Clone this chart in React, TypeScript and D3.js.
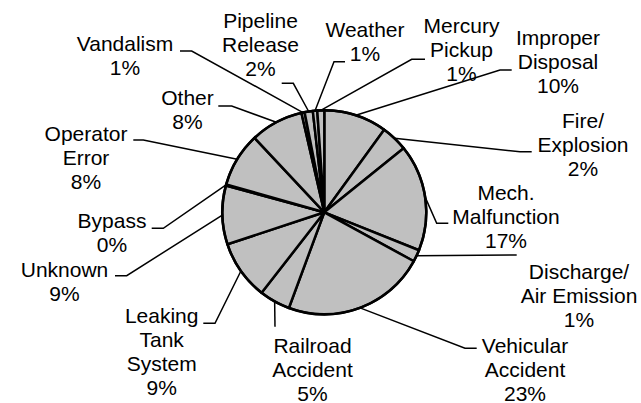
import React from "react";
import * as d3 from "d3";

// Categories in drawing order (clockwise from 12 o'clock); "\n" marks label line breaks
const categories = [
  "Improper\nDisposal",
  "Fire/\nExplosion",
  "Mech.\nMalfunction",
  "Discharge/\nAir Emission",
  "Vehicular\nAccident",
  "Railroad\nAccident",
  "Leaking\nTank\nSystem",
  "Unknown",
  "Bypass",
  "Operator\nError",
  "Other",
  "Vandalism",
  "Pipeline\nRelease",
  "Weather",
  "Mercury\nPickup",
];

// Slice sizes (share of the pie, %)
const values = [10.0, 4.2, 16.9, 1.9, 22.7, 4.9, 9.4, 9.3, 0.2, 8.6, 8.4, 0.5, 1.3, 0.7, 1.1];

// Percentage labels as printed on the chart
const percentLabels = ["10%", "2%", "17%", "1%", "23%", "5%", "9%", "9%", "0%", "8%", "8%", "1%", "2%", "1%", "1%"];

// Layout: label centre x, first baseline y, leader elbow (ex, ey) and leader end x (hx)
const labelLayout = [
  { tx: 558, ty: 45, ex: 500, ey: 70, hx: 511.7 },
  { tx: 583, ty: 128.3, ex: 520, ey: 151.7, hx: 531.7 },
  { tx: 506, ty: 200, ex: 436.7, ey: 223.3, hx: 448.3 },
  { tx: 579, ty: 279.3, ex: 516.7, ey: 255, hx: 516.7 },
  { tx: 525, ty: 353.3, ex: 465, ey: 348.3, hx: 476.7 },
  { tx: 312.5, ty: 353.3, ex: 275, ey: 326.7, hx: 275 },
  { tx: 161.7, ty: 323.3, ex: 215, ey: 323.3, hx: 203.3 },
  { tx: 64.5, ty: 276.7, ex: 126.7, ey: 275.7, hx: 115 },
  { tx: 112, ty: 228.3, ex: 163.3, ey: 228.3, hx: 151.7 },
  { tx: 86, ty: 141.3, ex: 143.3, ey: 140, hx: 133.3 },
  { tx: 187.5, ty: 105, ex: 231.7, ey: 106, hx: 218.3 },
  { tx: 125, ty: 50.7, ex: 191.7, ey: 51, hx: 180 },
  { tx: 260.5, ty: 28.3, ex: 293.3, ey: 83.3, hx: 281.7 },
  { tx: 365, ty: 37.3, ex: 334, ey: 61.7, hx: 345 },
  { tx: 461.5, ty: 33.3, ex: 411.7, ey: 59.3, hx: 425 },
];

const W = 641;
const H = 403;
const CX = 324.3;
const CY = 212.3;
const R = 102;
const LINE_H = 24;

export default function App() {
  const data = categories.map((c, i) => ({ name: c, value: values[i], pct: percentLabels[i], layout: labelLayout[i] }));
  const pie = d3
    .pie<any>()
    .sort(null)
    .value((d: any) => d.value)
    .startAngle(0)
    .endAngle(2 * Math.PI);
  const arcs = pie(data);
  const arcGen = d3.arc<any>().innerRadius(0).outerRadius(R);

  return (
    <svg
      width={W}
      height={H}
      style={{ position: "absolute", left: 0, top: 0, background: "#fff" }}
      fontFamily="'Liberation Sans', Arial, sans-serif"
      fontSize={21}
    >
      <rect x={0} y={0} width={W} height={H} fill="#fff" />
      {/* leader lines */}
      {arcs.map((a, i) => {
        const mid = (a.startAngle + a.endAngle) / 2;
        const px = CX + R * Math.sin(mid);
        const py = CY - R * Math.cos(mid);
        const L = a.data.layout;
        const pts = [
          [px, py],
          [L.ex, L.ey],
          [L.hx, L.ey],
        ];
        return (
          <polyline
            key={"l" + i}
            points={pts.map((p) => p.join(",")).join(" ")}
            fill="none"
            stroke="#000"
            strokeWidth={1.5}
          />
        );
      })}
      <g transform={`translate(${CX},${CY})`}>
        {arcs.map((a, i) => (
          <path key={"s" + i} d={arcGen(a) as string} fill="#c0c0c0" stroke="#000" strokeWidth={2.5} strokeLinejoin="round" />
        ))}
        <circle r={R} fill="none" stroke="#000" strokeWidth={2.5} />
      </g>
      {/* labels */}
      {arcs.map((a, i) => {
        const L = a.data.layout;
        const lines = [...a.data.name.split("\n"), a.data.pct];
        return (
          <text key={"t" + i} x={L.tx} y={L.ty} textAnchor="middle" fill="#000">
            {lines.map((ln: string, j: number) => (
              <tspan key={j} x={L.tx} y={L.ty + j * LINE_H}>
                {ln}
              </tspan>
            ))}
          </text>
        );
      })}
    </svg>
  );
}
